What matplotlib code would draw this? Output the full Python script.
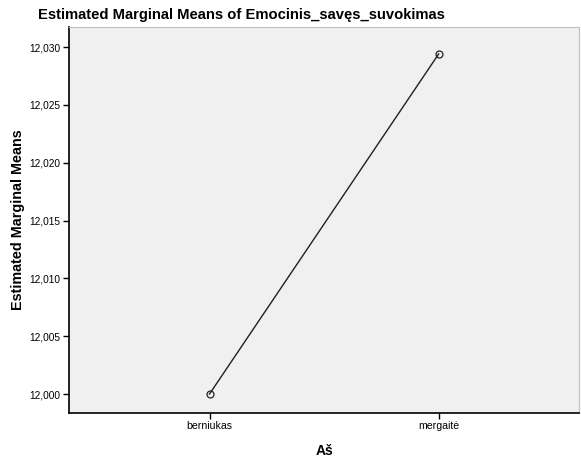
import matplotlib.pyplot as plt

plt.rcParams['font.family'] = ['Liberation Sans', 'DejaVu Sans']

categories = ['berniukas', 'mergaitė']
means = [12.000, 12.0294]
yticks = [12.000, 12.005, 12.010, 12.015, 12.020, 12.025, 12.030]
ytick_labels = ['12,000', '12,005', '12,010', '12,015', '12,020', '12,025', '12,030']

fig = plt.figure(figsize=(5.81, 4.61), dpi=100)
ax = fig.add_axes([0.1188, 0.1041, 0.878, 0.8373])
ax.set_facecolor('#F0F0F0')

x = list(range(len(categories)))
ax.plot(x, means, color='#202020', linewidth=1.0, marker='o', markersize=5,
        markerfacecolor='none', markeredgecolor='#202020', markeredgewidth=0.9)

ax.set_xlim(-0.613, 1.613)
ax.set_ylim(11.99836, 12.03173)
ax.set_xticks(x)
ax.set_xticklabels(categories, fontsize=7.6)
ax.set_yticks(yticks)
ax.set_yticklabels(ytick_labels, fontsize=7.3)
ax.tick_params(axis='both', length=4, width=1, color='black', pad=2)

for side in ['left', 'bottom']:
    ax.spines[side].set_color('black')
    ax.spines[side].set_linewidth(1.2)
for side in ['top', 'right']:
    ax.spines[side].set_color('#BFBFBF')
    ax.spines[side].set_linewidth(0.8)

ax.set_xlabel('Aš', fontsize=10, fontweight='bold', labelpad=9)
ax.set_ylabel('Estimated Marginal Means', fontsize=10.4, fontweight='bold', labelpad=3.5)
ax.set_title('Estimated Marginal Means of Emocinis_savęs_suvokimas', fontsize=10.6,
             fontweight='bold', loc='left', x=-0.061, pad=6)

plt.savefig('out.png', dpi=100)
